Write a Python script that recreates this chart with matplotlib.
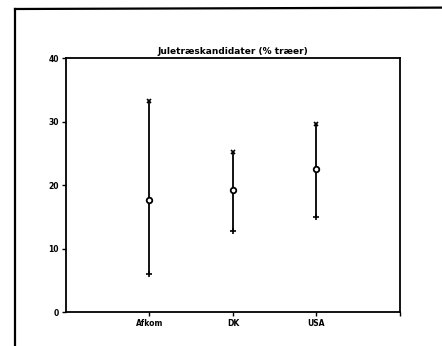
import matplotlib
matplotlib.use("Agg")
import matplotlib.pyplot as plt
from matplotlib.lines import Line2D

groups = ["Afkom", "DK", "USA"]
means = [17.6, 19.2, 22.5]
upper = [33.2, 25.2, 29.6]
lower = [6.0, 12.7, 15.0]
yticks = [0, 10, 20, 30, 40]

plt.rcParams["font.family"] = "DejaVu Sans"
plt.rcParams["font.weight"] = "bold"

fig = plt.figure(figsize=(4.42, 3.46), dpi=100)
ax = fig.add_axes([0.149, 0.098, 0.756, 0.734])

x = list(range(1, len(groups) + 1))
ax.vlines(x, lower, upper, color="black", linewidth=1.3)
ax.plot(x, upper, linestyle="none", marker="x", color="black", markersize=3.5, markeredgewidth=1.2)
ax.plot(x, lower, linestyle="none", marker="+", color="black", markersize=4, markeredgewidth=1.2)
ax.plot(x, means, linestyle="none", marker="o", color="black", markerfacecolor="white",
        markersize=4, markeredgewidth=1.3)

ax.set_xlim(0, 4)
ax.set_ylim(0, 40)
ax.set_xticks(x + [4])
ax.set_xticklabels(groups + [""], fontsize=5.5, fontweight="bold")
ax.set_yticks(yticks)
ax.set_yticklabels([str(v) for v in yticks], fontsize=5.5, fontweight="bold")
ax.tick_params(direction="out", length=3, width=1, pad=2)
for s in ax.spines.values():
    s.set_linewidth(1.3)

ax.set_title("Juletræskandidater (% træer)", fontsize=6.5, fontweight="bold", pad=3)

# scanned page border
fig.add_artist(Line2D([0.034, 1.0], [0.974, 0.978], transform=fig.transFigure, color="black", linewidth=1.6))
fig.add_artist(Line2D([0.034, 0.034], [0.0, 0.974], transform=fig.transFigure, color="black", linewidth=1.6))

fig.savefig("out.png", dpi=100)
